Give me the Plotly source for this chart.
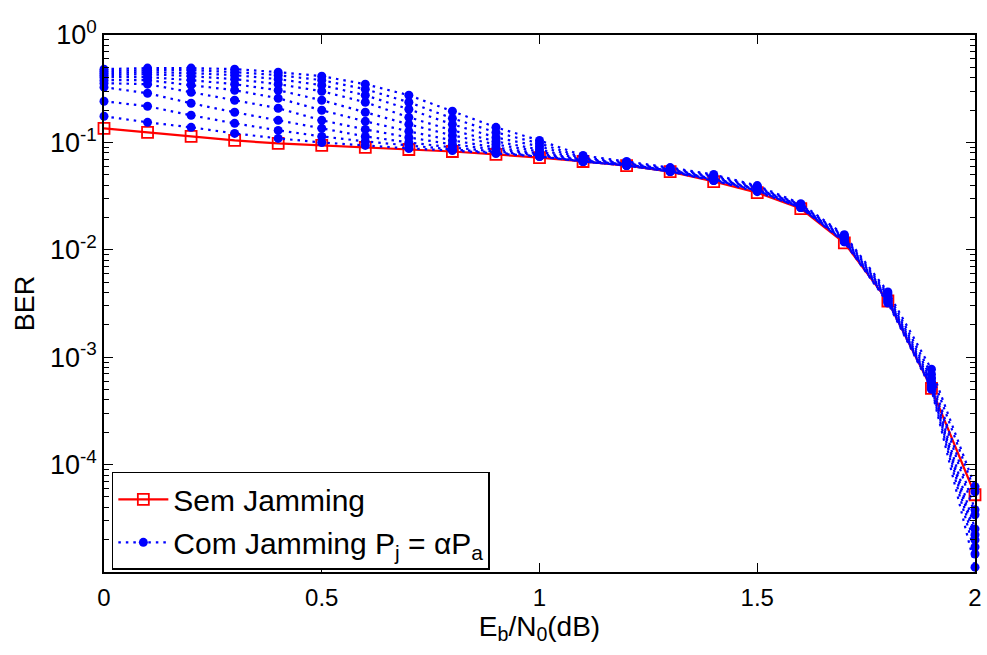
import plotly.graph_objects as go

ebn0 = [0.0, 0.1, 0.2, 0.3, 0.4, 0.5, 0.6, 0.7, 0.8, 0.9, 1.0,
        1.1, 1.2, 1.3, 1.4, 1.5, 1.6, 1.7, 1.8, 1.9, 2.0]

ber_sem = [0.1351, 0.1240, 0.1137, 0.1043, 0.0978, 0.0937, 0.0897, 0.0859, 0.0823, 0.0772, 0.0723,
           0.0664, 0.0609, 0.0535, 0.0432, 0.0341, 0.0242, 0.01162, 0.003337, 5.13e-4, 5.24e-5]

ber_c1 = [0.1750, 0.1538, 0.1381, 0.1213, 0.1089, 0.0999, 0.0937, 0.0878, 0.0841, 0.0789, 0.0739,
          0.0664, 0.0609, 0.0535, 0.0441, 0.0348, 0.0247, 0.01187, 0.003196, 5.02e-4, 1.11e-5]
ber_c2 = [0.2417, 0.2170, 0.1788, 0.1505, 0.1294, 0.1137, 0.1021, 0.0937, 0.0859, 0.0806, 0.0739,
          0.0664, 0.0609, 0.0535, 0.0441, 0.0356, 0.0247, 0.01187, 0.003266, 5.13e-4, 1.47e-5]
ber_c3 = [0.3267, 0.2871, 0.2315, 0.1907, 0.1605, 0.1351, 0.1137, 0.0999, 0.0897, 0.0823, 0.0755,
          0.0664, 0.0609, 0.0535, 0.0451, 0.0356, 0.0247, 0.01213, 0.003337, 5.24e-4, 1.71e-5]
ber_c4 = [0.3560, 0.3484, 0.2933, 0.2469, 0.2079, 0.1605, 0.1322, 0.1113, 0.0957, 0.0859, 0.0772,
          0.0664, 0.0622, 0.0547, 0.0451, 0.0364, 0.0252, 0.01213, 0.003409, 5.36e-4, 1.99e-5]
ber_c5 = [0.3798, 0.3798, 0.3410, 0.3062, 0.2578, 0.1991, 0.1571, 0.1267, 0.1043, 0.0897, 0.0789,
          0.0678, 0.0622, 0.0547, 0.0460, 0.0364, 0.0252, 0.01240, 0.003484, 5.47e-4, 2.22e-5]
ber_c6 = [0.4051, 0.4051, 0.3798, 0.3484, 0.3062, 0.2469, 0.1907, 0.1473, 0.1162, 0.0957, 0.0823,
          0.0678, 0.0622, 0.0547, 0.0460, 0.0371, 0.0258, 0.01267, 0.003559, 5.72e-4, 2.52e-5]
ber_c7 = [0.4229, 0.4321, 0.4139, 0.3880, 0.3484, 0.2997, 0.2365, 0.1712, 0.1294, 0.1021, 0.0859,
          0.0693, 0.0636, 0.0559, 0.0470, 0.0371, 0.0258, 0.01294, 0.003637, 5.97e-4, 3.41e-5]
ber_c8 = [0.4415, 0.4511, 0.4415, 0.4229, 0.3880, 0.3410, 0.2750, 0.2034, 0.1473, 0.1113, 0.0917,
          0.0708, 0.0636, 0.0559, 0.0481, 0.0380, 0.0263, 0.01323, 0.003716, 6.36e-4, 3.80e-5]
ber_c9 = [0.4609, 0.4709, 0.4709, 0.4511, 0.4229, 0.3798, 0.3129, 0.2365, 0.1676, 0.1240, 0.0978,
          0.0723, 0.0650, 0.0571, 0.0491, 0.0388, 0.0263, 0.01351, 0.003879, 6.94e-4, 5.59e-5]
ber_c10 = [0.4811, 0.4916, 0.4916, 0.4811, 0.4511, 0.4139, 0.3484, 0.2750, 0.1949, 0.1381, 0.1043,
           0.0755, 0.0664, 0.0583, 0.0502, 0.0396, 0.0269, 0.01381, 0.00405, 7.73e-4, 6.23e-5]

jam_curves = [ber_c1, ber_c2, ber_c3, ber_c4, ber_c5, ber_c6, ber_c7, ber_c8, ber_c9, ber_c10]

y_tickvals = [1e-4, 1e-3, 1e-2, 1e-1, 1]
y_ticktext = ["10<sup>-4</sup>", "10<sup>-3</sup>", "10<sup>-2</sup>", "10<sup>-1</sup>", "10<sup>0</sup>"]
x_tickvals = [0, 0.5, 1, 1.5, 2]
x_ticktext = ["0", "0.5", "1", "1.5", "2"]

FONT = "Arial, Liberation Sans, sans-serif"

fig = go.Figure()
fig.add_trace(go.Scatter(
    x=ebn0, y=ber_sem, mode="lines+markers", name="Sem Jamming",
    line=dict(color="#ff0000", width=2.2),
    marker=dict(symbol="square-open", size=11, color="#ff0000", line=dict(width=1.8, color="#ff0000")),
    cliponaxis=False,
))
for i, c in enumerate(jam_curves):
    fig.add_trace(go.Scatter(
        x=ebn0, y=c, mode="lines+markers",
        name="Com Jamming P<sub>j</sub> = αP<sub>a</sub>",
        legendgroup="jam", showlegend=(i == 0),
        line=dict(color="#0000ff", width=2.2, dash="2.5px,5px"),
        marker=dict(symbol="circle", size=9, color="#0000ff"),
        cliponaxis=False,
    ))

axis_common = dict(
    showline=True, linecolor="black", linewidth=1.5, mirror="ticks",
    ticks="inside", tickcolor="black", tickwidth=1, showgrid=False, zeroline=False,
)

fig.update_layout(
    width=987, height=655,
    margin=dict(l=104, r=5, t=35, b=83),
    paper_bgcolor="white", plot_bgcolor="white",
    font=dict(family=FONT, color="black"),
    showlegend=True,
    legend=dict(
        x=0.009, y=0.004, xanchor="left", yanchor="bottom",
        bgcolor="white", bordercolor="black", borderwidth=1.5,
        font=dict(size=30, family=FONT, color="black"),
        itemwidth=50, traceorder="grouped", tracegroupgap=1,
    ),
    xaxis=dict(
        range=[0, 2], tickvals=x_tickvals, ticktext=x_ticktext, ticklen=9,
        tickfont=dict(size=24, family=FONT), ticklabelstandoff=3,
        title=dict(text="E<sub>b</sub>/N<sub>0</sub>(dB)", font=dict(size=28, family=FONT), standoff=0),
        **axis_common,
    ),
    yaxis=dict(
        type="log", range=[-5, 0], tickvals=y_tickvals, ticktext=y_ticktext, ticklen=9,
        tickfont=dict(size=27, family=FONT),
        minor=dict(ticks="inside", ticklen=5, tickcolor="black", dtick="D1", showgrid=False),
        title=dict(text="BER", font=dict(size=27, family=FONT), standoff=8),
        **axis_common,
    ),
)

fig.write_html("out.html")
